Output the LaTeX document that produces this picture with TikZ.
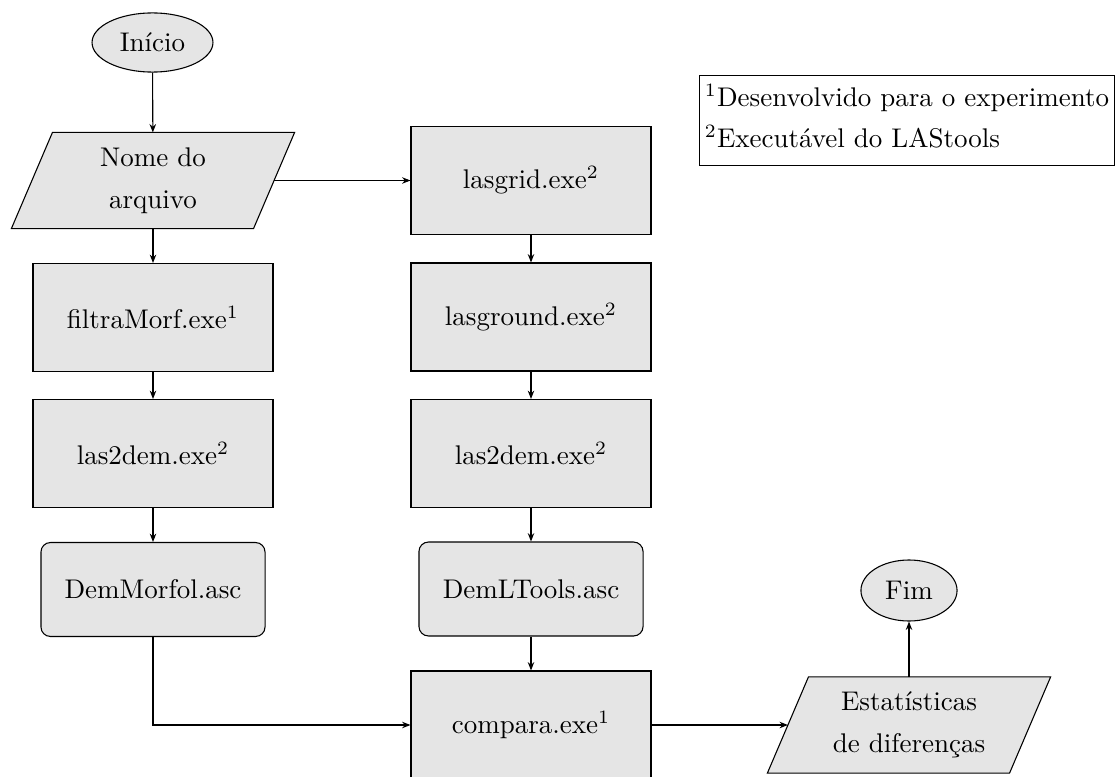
\documentclass[tikz,border=0pt]{standalone}
\usepackage{fontspec}
\usetikzlibrary{shapes.geometric,arrows.meta,backgrounds}
\begin{document}
\begin{tikzpicture}[x=0.3704pt,y=-0.3704pt,
  box/.style={draw, fill=gray!20, minimum width=88.9pt, minimum height=40pt, inner sep=0pt},
  stored/.style={draw, fill=gray!20, rounded corners=3.5pt, minimum width=83pt, minimum height=34.8pt, inner sep=0pt},
  io/.style={minimum width=89.3pt, minimum height=35.2pt, inner sep=0pt, align=center},
  terminal/.style={draw, fill=gray!20, ellipse, inner sep=0pt},
  flow/.style={-{Stealth[length=3.1pt,width=2.4pt]}},
  ]
\useasboundingbox (0,0) rectangle (1115,777);

% start and end
\node[terminal, minimum width=44.8pt, minimum height=21.9pt] (inicio) at (152.5,42.5) {Início};
\node[terminal, minimum width=35.6pt, minimum height=22.6pt] (fim) at (909,590.5) {Fim};

% left branch
\node[io] (nome) at (153,180.5) {Nome do\\[3.5pt]arquivo};
\node[box] (filtra) at (153,317.5) {filtraMorf.exe$^1$};
\node[box] (l2dL) at (153,453.5) {las2dem.exe$^2$};
\node[stored] (dmorf) at (153,589.5) {DemMorfol.asc};

% right branch
\node[box] (grid) at (531,180.5) {lasgrid.exe$^2$};
\node[box] (ground) at (531,317) {lasground.exe$^2$};
\node[box] (l2dR) at (531,453.5) {las2dem.exe$^2$};
\node[stored] (dlt) at (531,589) {DemLTools.asc};
\node[box] (comp) at (531,725) {compara.exe$^1$};

% output
\node[io] (est) at (909,725) {Estatísticas\\[3.5pt]de diferenças};

% legend
\node[draw, anchor=north west, align=left, inner xsep=2pt, inner ysep=3.05pt] (legenda) at (699,75)
  {\strut$^1$Desenvolvido para o experimento\\[3.2pt]$^2$Executável do LAStools\strut};

% parallelogram outlines behind the input/output texts
\begin{pgfonlayer}{background}
  \foreach \n in {nome,est}
    \draw[fill=gray!20] ([xshift=7.6pt]\n.north west) -- ([xshift=7.6pt]\n.north east)
      -- ([xshift=-7.6pt]\n.south east) -- ([xshift=-7.6pt]\n.south west) -- cycle;
\end{pgfonlayer}

% connectors
\draw[flow] (inicio) -- (nome);
\draw[flow] (nome) -- (filtra);
\draw[flow] (filtra) -- (l2dL);
\draw[flow] (l2dL) -- (dmorf);
\draw[flow] (nome.east) -- (grid.west);
\draw[flow] (grid) -- (ground);
\draw[flow] (ground) -- (l2dR);
\draw[flow] (l2dR) -- (dlt);
\draw[flow] (dlt) -- (comp);
\draw[flow] (dmorf.south) |- (comp.west);
\draw[flow] (comp) -- (est);
\draw[flow] (est) -- (fim);
\end{tikzpicture}
\end{document}
